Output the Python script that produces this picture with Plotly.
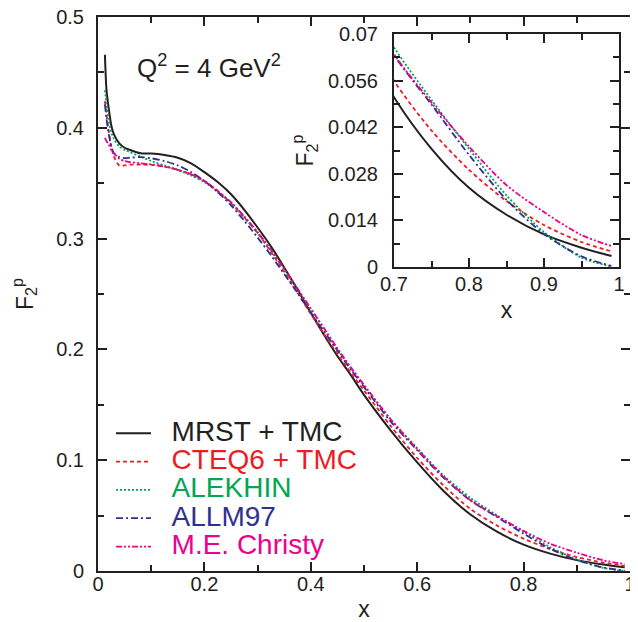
import plotly.graph_objects as go

# ---------------- data ----------------
x_grid = [0.013, 0.016, 0.02, 0.025, 0.03, 0.04, 0.05, 0.06, 0.08, 0.1,
          0.125, 0.15, 0.175, 0.2, 0.225, 0.25, 0.275, 0.3, 0.325, 0.35,
          0.375, 0.4, 0.425, 0.45, 0.475, 0.5, 0.55, 0.6, 0.65, 0.7,
          0.75, 0.8, 0.85, 0.9, 0.95, 0.99]

mrst = [0.466, 0.434, 0.418, 0.402, 0.394, 0.386, 0.382, 0.380, 0.377, 0.3768,
        0.3755, 0.373, 0.368, 0.360, 0.351, 0.340, 0.326, 0.310, 0.293, 0.274,
        0.254, 0.233, 0.213, 0.194, 0.177, 0.159, 0.127, 0.098, 0.072, 0.051,
        0.0355, 0.0238, 0.0157, 0.0098, 0.0058, 0.0033]

cteq6 = [0.424, 0.412, 0.398, 0.383, 0.374, 0.366, 0.366, 0.3667, 0.3667, 0.3665,
         0.365, 0.362, 0.358, 0.352, 0.343, 0.332, 0.319, 0.305, 0.288, 0.270,
         0.251, 0.232, 0.214, 0.196, 0.179, 0.163, 0.131, 0.102, 0.077, 0.056,
         0.041, 0.0292, 0.0198, 0.0126, 0.0075, 0.0047]

alekhin = [0.434, 0.422, 0.408, 0.396, 0.390, 0.383, 0.380, 0.378, 0.374, 0.370,
           0.366, 0.362, 0.357, 0.351, 0.342, 0.332, 0.319, 0.305, 0.289, 0.272,
           0.254, 0.236, 0.218, 0.200, 0.183, 0.167, 0.137, 0.111, 0.086, 0.066,
           0.0502, 0.0355, 0.0215, 0.0105, 0.0028, 0.0001]

allm97 = [0.421, 0.408, 0.395, 0.383, 0.377, 0.3735, 0.3727, 0.373, 0.3736, 0.3725,
          0.370, 0.366, 0.360, 0.352, 0.342, 0.330, 0.316, 0.301, 0.285, 0.268,
          0.251, 0.233, 0.216, 0.199, 0.182, 0.166, 0.135, 0.109, 0.084, 0.0637,
          0.0488, 0.0337, 0.0202, 0.0099, 0.0032, 0.0003]

christy = [0.391, 0.388, 0.385, 0.380, 0.377, 0.372, 0.370, 0.369, 0.368, 0.367,
           0.365, 0.362, 0.358, 0.352, 0.343, 0.333, 0.320, 0.306, 0.290, 0.273,
           0.255, 0.237, 0.219, 0.201, 0.184, 0.168, 0.137, 0.110, 0.085, 0.064,
           0.0494, 0.0362, 0.0246, 0.0165, 0.0096, 0.0063]

series_names = ["MRST + TMC", "CTEQ6 + TMC", "ALEKHIN", "ALLM97", "M.E. Christy"]
series_values = [mrst, cteq6, alekhin, allm97, christy]
series_colors = ["#231f20", "#ed1c24", "#00a651", "#2e3192", "#ec008c"]
series_dash = ["solid", "4px,3px", "2px,2px", "7px,3px,2px,3px", "6px,2px,2px,2px,2px,2px"]
series_width = [2, 1.8, 1.8, 1.8, 1.8]

main_xticks = [0, 0.2, 0.4, 0.6, 0.8, 1]
main_yticks = [0, 0.1, 0.2, 0.3, 0.4, 0.5]
inset_xticks = [0.7, 0.8, 0.9, 1]
inset_yticks = [0, 0.014, 0.028, 0.042, 0.056, 0.07]

FONT = "Liberation Sans, Arial, Helvetica, sans-serif"
INK = "#231f20"

# page offset of the figure (default body margin)
OFF = 8
W, H = 638 - OFF, 622 - OFF
# plot-area geometry in page pixels, converted to figure pixels
L, R, T, B = 98 - OFF, 630 - OFF, 17 - OFF, 571 - OFF
fx = lambda a: (a - OFF - L) / (R - L)     # page pixel -> paper x
fy = lambda b: (B - (b - OFF)) / (B - T)   # page pixel -> paper y

fig = go.Figure()
NBSP = "\u00a0"
for name, vals, col, dash, w in zip(series_names, series_values, series_colors,
                                    series_dash, series_width):
    fig.add_trace(go.Scatter(
        x=x_grid, y=vals, mode="lines",
        name=f"<span style='color:{col};font-size:28px'>{NBSP*2}{name}</span>",
        line=dict(color=col, dash=dash, width=w, shape="spline", smoothing=0.8),
        xaxis="x", yaxis="y", showlegend=True))
    fig.add_trace(go.Scatter(
        x=x_grid, y=vals, mode="lines", name=name,
        line=dict(color=col, dash=dash, width=w, shape="spline", smoothing=0.8),
        xaxis="x2", yaxis="y2", showlegend=False))

axis_common = dict(
    showgrid=False, zeroline=False, showline=True, linecolor=INK,
    linewidth=2, mirror="ticks", ticks="inside", ticklen=9, tickwidth=1.5,
    tickcolor=INK, automargin=False, ticklabeloverflow="allow",
    tickfont=dict(family=FONT, size=20, color=INK),
)
minor_common = dict(ticks="inside", ticklen=6, tickwidth=1.5, tickcolor=INK)

fig.update_layout(
    width=W, height=H,
    margin=dict(l=L, r=W - R, t=T, b=H - B, autoexpand=False),
    paper_bgcolor="white", plot_bgcolor="white",
    font=dict(family=FONT, color=INK),
    xaxis=dict(
        **axis_common, domain=[0, 1], range=[0, 1],
        tickvals=main_xticks, ticktext=[f"{v:g}" for v in main_xticks],
        ticklabelstandoff=-6,
        minor=dict(dtick=0.1, **minor_common),
        title=dict(text="x", font=dict(family=FONT, size=23), standoff=7),
        anchor="y",
    ),
    yaxis=dict(
        **axis_common, domain=[0, 1], range=[0, 0.5],
        tickvals=main_yticks, ticktext=[f"{v:g}" for v in main_yticks],
        ticklabelstandoff=8,
        minor=dict(dtick=0.05, **minor_common),
        title=dict(text="F<sub>2</sub><sup>p</sup>", font=dict(family=FONT, size=23), standoff=23),
        anchor="x",
    ),
    xaxis2=dict(
        **axis_common, domain=[fx(394), fx(619)], range=[0.7, 1.0],
        tickvals=inset_xticks, ticktext=[f"{v:g}" for v in inset_xticks],
        ticklabelstandoff=-2,
        minor=dict(dtick=0.05, tick0=0.7, **minor_common),
        title=dict(text="x", font=dict(family=FONT, size=23), standoff=8),
        anchor="y2",
    ),
    yaxis2=dict(
        **axis_common, domain=[fy(267), fy(34)], range=[0, 0.07],
        tickvals=inset_yticks, ticktext=[f"{v:g}" for v in inset_yticks],
        ticklabelstandoff=10,
        minor=dict(dtick=0.007, **minor_common),
        title=dict(text="F<sub>2</sub><sup>p</sup>", font=dict(family=FONT, size=23), standoff=8),
        anchor="x2",
    ),
    legend=dict(
        x=fx(111), y=fy(414), xanchor="left", yanchor="top",
        bgcolor="rgba(0,0,0,0)", borderwidth=0,
        font=dict(family=FONT, size=19.5), tracegroupgap=0,
        itemwidth=35,
    ),
    showlegend=True,
    annotations=[dict(
        text="Q<sup>2</sup> = 4 GeV<sup>2</sup>", x=fx(209), y=fy(66),
        xref="paper", yref="paper", showarrow=False,
        font=dict(family=FONT, size=26, color=INK),
        xanchor="center", yanchor="middle")],
)

fig.write_html("out.html")
